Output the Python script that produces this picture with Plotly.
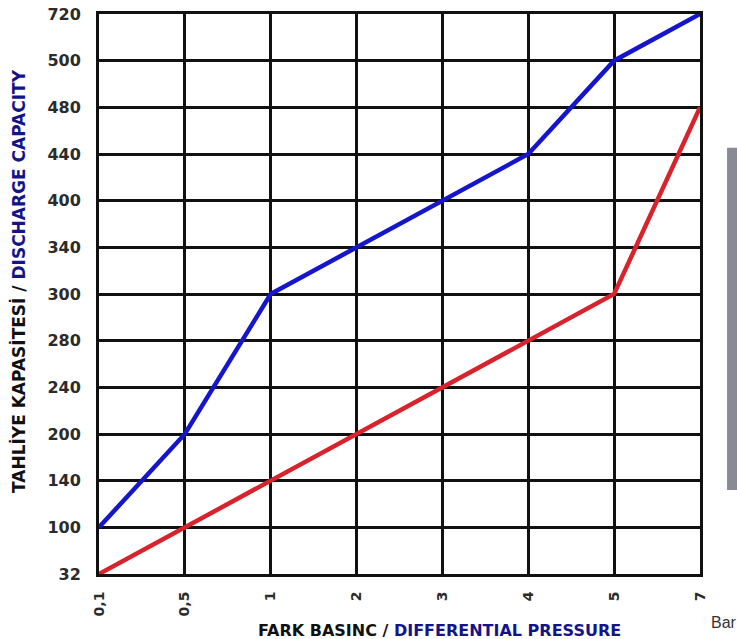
import plotly.graph_objects as go

x_labels = ["0,1", "0,5", "1", "2", "3", "4", "5", "7"]
y_labels = ["32", "100", "140", "200", "240", "280", "300", "340", "400", "440", "480", "500", "720"]
blue_values = ["100", "200", "300", "340", "400", "440", "500", "720"]
red_values = ["32", "100", "140", "200", "240", "280", "300", "480"]

fig = go.Figure()
fig.add_trace(go.Scatter(x=x_labels, y=red_values, mode="lines",
                         line=dict(color="#d8222c", width=4.5), cliponaxis=False, showlegend=False))
fig.add_trace(go.Scatter(x=x_labels, y=blue_values, mode="lines",
                         line=dict(color="#1515cc", width=4.5), cliponaxis=False, showlegend=False))

fig.update_xaxes(type="category", categoryorder="array", categoryarray=x_labels,
                 range=[0, len(x_labels) - 1], showgrid=True, gridcolor="#111", gridwidth=2.5,
                 showline=True, mirror=True, linecolor="#111", linewidth=3, automargin=False,
                 tickangle=-90, tickfont=dict(family="DejaVu Sans", size=14, color="#2b2b2b", weight="bold"),
                 ticks="outside", ticklen=9, tickcolor="rgba(0,0,0,0)", zeroline=False)
fig.update_yaxes(type="category", categoryorder="array", categoryarray=y_labels,
                 range=[0, len(y_labels) - 1], showgrid=True, gridcolor="#111", gridwidth=2.5,
                 showline=True, mirror=True, linecolor="#111", linewidth=3, automargin=False,
                 tickfont=dict(family="DejaVu Sans", size=16, color="#2b2b2b", weight="bold"),
                 ticks="outside", ticklen=12, tickcolor="rgba(0,0,0,0)", zeroline=False)

fig.add_annotation(xref="paper", yref="paper", x=-0.135, y=0.523, textangle=-90,
                   showarrow=False, xanchor="center", yanchor="middle",
                   text="<b>TAHLİYE KAPASİTESİ / <span style='color:#141488'>DISCHARGE CAPACITY</span></b>",
                   font=dict(family="DejaVu Sans", size=17, color="#111"))
fig.add_annotation(xref="paper", yref="paper", x=0.566, y=-0.1, yanchor="middle",
                   showarrow=False, xanchor="center",
                   text="<b>FARK BASINC / <span style='color:#141488'>DIFFERENTIAL PRESSURE</span></b>",
                   font=dict(family="DejaVu Sans", size=16, color="#111"))
fig.add_annotation(xref="paper", yref="paper", x=1.015, y=-0.086, yanchor="middle",
                   showarrow=False, xanchor="left", text="Bar",
                   font=dict(family="Liberation Sans", size=16, color="#333"))
fig.add_shape(type="rect", xref="paper", yref="paper", x0=1.045, x1=1.07, y0=0.15, y1=0.761,
              fillcolor="#8a8a96", line=dict(width=0), layer="above")

fig.update_layout(width=737, height=639, margin=dict(l=99, r=37, t=14, b=65),
                  paper_bgcolor="white", plot_bgcolor="white")
fig.write_html("out.html", config={"displayModeBar": False},
               post_script="document.body.style.margin='0';document.body.style.overflow='hidden';")
